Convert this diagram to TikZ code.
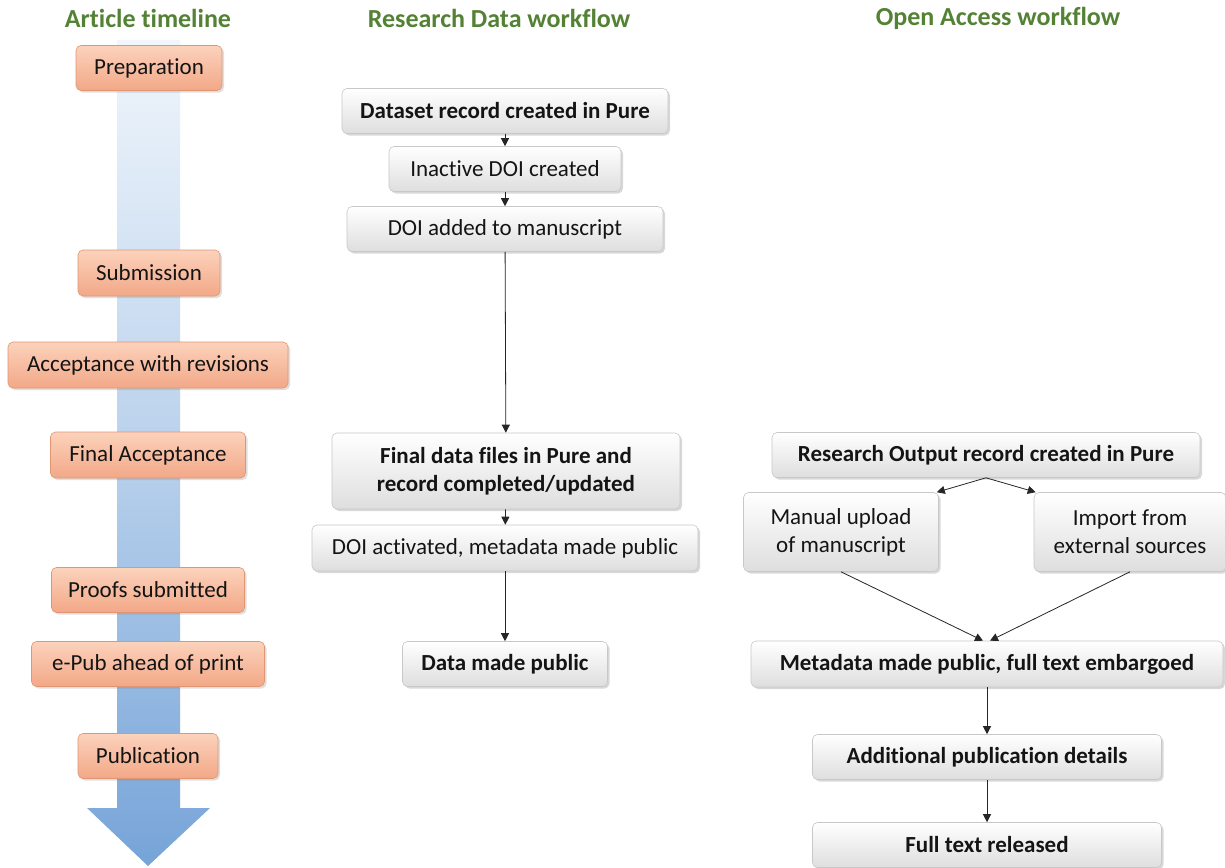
\documentclass[tikz,border=0pt]{standalone}
\usepackage{fontspec}
\setmainfont{Carlito}[Ligatures=NoCommon]
\usetikzlibrary{arrows.meta,shadows}
\definecolor{hdr}{RGB}{84,130,53}
\definecolor{oraT}{RGB}{252,210,188}
\definecolor{oraB}{RGB}{242,168,135}
\definecolor{oraD}{RGB}{225,150,115}
\definecolor{gryB}{RGB}{222,222,222}
\definecolor{gryD}{RGB}{200,200,200}
\definecolor{arrT}{RGB}{240,246,252}
\definecolor{arrB}{RGB}{118,164,216}
\definecolor{txt}{RGB}{20,20,20}
\tikzset{
  hdrtext/.style={text=hdr, font=\fontsize{26}{30}\selectfont\bfseries},
  tlbox/.style={rounded corners=5pt, top color=oraT, bottom color=oraB, draw=oraD, line width=0.6pt,
    text=txt, font=\fontsize{23}{28}\selectfont, inner sep=0pt,
    drop shadow={opacity=0.25, shadow xshift=2pt, shadow yshift=-2pt}},
  gbox/.style={rounded corners=5pt, top color=white, bottom color=gryB, draw=gryD, line width=0.6pt,
    text=txt, font=\fontsize{23}{28}\selectfont, inner sep=0pt, align=center,
    drop shadow={opacity=0.3, shadow xshift=2pt, shadow yshift=-2pt}},
  bgbox/.style={gbox, font=\fontsize{23}{28}\selectfont\bfseries},
  conn/.style={draw=black!85, line width=0.8pt, -{Triangle[length=8pt,width=8pt]}},
}
\begin{document}
\begin{tikzpicture}[x=1pt,y=-1pt]
\useasboundingbox (0,0) rectangle (1225,867);
\fill[white] (0,0) rectangle (1225,867);
% headers
\node[hdrtext] (h1) at (148,18) {Article timeline};
\node[hdrtext] (h2) at (499,18) {Research Data workflow};
\node[hdrtext] (h3) at (998,18) {Open Access workflow};
% timeline arrow
\shade[top color=arrT, bottom color=arrB, middle color=arrB!45!arrT]
  (117,40) -- (180,40) -- (180,808) -- (210,808) -- (148,866) -- (87,808) -- (117,808) -- cycle;
% timeline boxes
\node[tlbox, minimum width=146pt, minimum height=45pt] (prep) at (149,68) {Preparation};
\node[tlbox, minimum width=142pt, minimum height=46pt] (sub) at (149,273) {Submission};
\node[tlbox, minimum width=280pt, minimum height=46pt] (acc) at (148,365) {Acceptance with revisions};
\node[tlbox, minimum width=195pt, minimum height=46pt] (fin) at (148,455) {Final Acceptance};
\node[tlbox, minimum width=193pt, minimum height=45pt] (proof) at (148,590) {Proofs submitted};
\node[tlbox, minimum width=233pt, minimum height=45pt] (epub) at (148,664) {e-Pub ahead of print};
\node[tlbox, minimum width=140pt, minimum height=45pt] (pub) at (148,756) {Publication};
% research data workflow
\node[bgbox, minimum width=326pt, minimum height=45pt] (ds) at (505,111) {Dataset record created in Pure};
\node[gbox, minimum width=232pt, minimum height=45pt] (inact) at (505,169) {Inactive DOI created};
\node[gbox, minimum width=316pt, minimum height=45pt] (added) at (505,229) {DOI added to manuscript};
\node[bgbox, minimum width=348pt, minimum height=76pt] (final) at (506,471) {Final data files in Pure and\\record completed/updated};
\node[gbox, minimum width=386pt, minimum height=46pt] (activ) at (505,548) {DOI activated, metadata made public};
\node[bgbox, minimum width=205pt, minimum height=45pt] (dpub) at (505,664) {Data made public};
\draw[conn] (ds) -- (inact);
\draw[conn] (inact) -- (added);
\draw[conn] (added) -- (final);
\draw[conn] (final) -- (activ);
\draw[conn] (activ) -- (dpub);
% open access workflow
\node[bgbox, minimum width=428pt, minimum height=45pt] (ro) at (986,455) {Research Output record created in Pure};
\node[gbox, minimum width=195pt, minimum height=79pt] (man) at (841,532) {Manual upload\\of manuscript};
\node[gbox, minimum width=192pt, minimum height=79pt] (imp) at (1130,532) {Import from\\external sources};
\node[bgbox, minimum width=472pt, minimum height=46pt] (meta) at (987,664) {Metadata made public, full text embargoed};
\node[bgbox, minimum width=349pt, minimum height=45pt] (addl) at (987,757) {Additional publication details};
\node[bgbox, minimum width=349pt, minimum height=45pt] (full) at (987,845) {Full text released};
\coordinate (rosplit) at (ro.south);
\draw[conn] (rosplit) -- ([xshift=-2pt]man.north east);
\draw[conn] (rosplit) -- ([xshift=2pt]imp.north west);
\draw[conn] (man.south) -- ([xshift=-4pt]meta.north);
\draw[conn] (imp.south) -- ([xshift=3pt]meta.north);
\draw[conn] (meta) -- (addl);
\draw[conn] (addl) -- (full);
\end{tikzpicture}
\end{document}
